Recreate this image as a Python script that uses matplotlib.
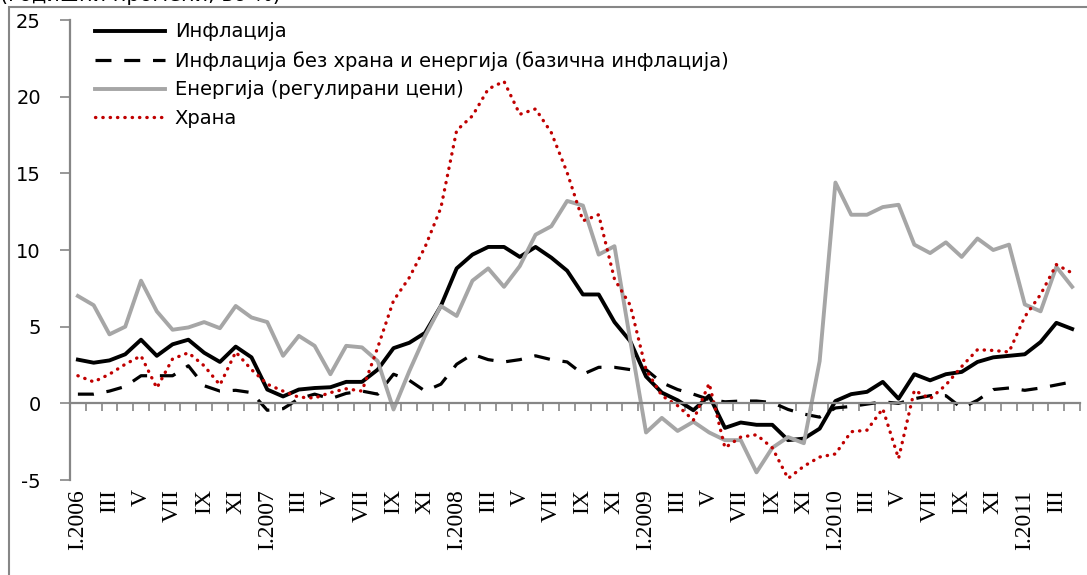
"""
Инфлација и нејзините компоненти (годишни стапки), I.2006 - IV.2011.

Скриптата ја прецртува сликата со четирите серии: вкупна инфлација,
базична инфлација, енергија (регулирани цени) и храна.
"""

import numpy as np
import matplotlib
matplotlib.use('Agg')
import matplotlib.pyplot as plt
from matplotlib.patches import Rectangle

plt.rcParams['font.family'] = ['DejaVu Sans']
plt.rcParams['axes.unicode_minus'] = False

# Оска x: месеци од I.2006 до IV.2011
godini = [2006, 2007, 2008, 2009, 2010, 2011]
meseci_rimski = ['I', 'III', 'V', 'VII', 'IX', 'XI']
broj_meseci = 64

# Серии (во %)
inflacija = [2.85, 2.65, 2.8, 3.2, 4.15, 3.1, 3.85, 4.15, 3.3, 2.7, 3.7, 3.0,
             0.9, 0.45, 0.9, 1.0, 1.05, 1.4, 1.4, 2.2, 3.6, 3.95, 4.6, 6.35,
             8.8, 9.7, 10.2, 10.2, 9.55, 10.2, 9.5, 8.65, 7.1, 7.1, 5.3, 4.05,
             1.75, 0.7, 0.2, -0.45, 0.5, -1.6, -1.25, -1.4, -1.4, -2.4, -2.3, -1.65,
             0.15, 0.6, 0.75, 1.4, 0.3, 1.9, 1.5, 1.9, 2.05, 2.7, 3.0, 3.1,
             3.2, 4.0, 5.25, 4.85]

bazicna = [0.6, 0.6, 0.8, 1.1, 1.8, 1.8, 1.8, 2.45, 1.15, 0.8, 0.85, 0.7,
           -0.45, -0.35, 0.3, 0.6, 0.3, 0.65, 0.8, 0.6, 1.9, 1.5, 0.8, 1.25,
           2.55, 3.2, 2.85, 2.7, 2.85, 3.1, 2.85, 2.7, 1.9, 2.35, 2.35, 2.2,
           2.2, 1.35, 0.9, 0.6, 0.25, 0.1, 0.15, 0.15, 0.05, -0.4, -0.7, -0.9,
           -0.3, -0.2, -0.05, 0.1, 0.0, 0.3, 0.5, 0.5, -0.3, 0.2, 0.9, 1.0,
           0.85, 1.0, 1.2, 1.4]

energija = [7.0, 6.4, 4.5, 5.0, 8.0, 6.0, 4.8, 4.95, 5.3, 4.9, 6.35, 5.6,
            5.3, 3.1, 4.4, 3.75, 1.9, 3.75, 3.65, 2.75, -0.4, 2.1, 4.4, 6.35,
            5.7, 8.0, 8.8, 7.6, 8.95, 11.0, 11.55, 13.2, 12.9, 9.7, 10.25, 4.1,
            -1.9, -0.95, -1.8, -1.2, -1.9, -2.4, -2.4, -4.5, -2.9, -2.2, -2.6, 2.75,
            14.4, 12.3, 12.3, 12.8, 12.95, 10.35, 9.8, 10.5, 9.55, 10.75, 10.0, 10.35,
            6.45, 6.0, 8.9, 7.6]

hrana = [1.8, 1.4, 1.9, 2.55, 3.1, 1.0, 2.9, 3.3, 2.45, 1.2, 3.35, 2.2,
         1.25, 0.8, 0.4, 0.35, 0.7, 0.95, 0.8, 3.65, 6.7, 8.2, 10.2, 12.75,
         17.8, 18.75, 20.5, 21.0, 18.85, 19.2, 17.65, 15.05, 11.9, 12.3, 8.1, 6.4,
         2.2, 0.5, -0.15, -1.1, 1.3, -2.9, -2.2, -2.05, -2.9, -4.9, -4.1, -3.5,
         -3.3, -1.85, -1.75, -0.35, -3.6, 0.85, 0.3, 1.2, 2.4, 3.5, 3.45, 3.35,
         5.65, 7.1, 9.05, 8.5]

SIVA_OSKA = '#868686'


def oznaki_meseci():
    """
    Ги гради ознаките за секој втор месец (I.2006, III, V, ...).

    Returns:
        list: ознаки за оската x
    """
    oznaki = []
    for godina in godini:
        for mesec in meseci_rimski:
            oznaki.append(f'{mesec}.{godina}' if mesec == 'I' else mesec)
    return oznaki[:(broj_meseci + 1) // 2]


def grafik_inflacija(ime_fajl='out.png'):
    """
    Го црта графикот со четирите серии и го зачувува.

    Args:
        ime_fajl (str): име на излезниот фајл
    """
    fig = plt.figure(figsize=(10.87, 5.75), dpi=100)
    ax = fig.add_axes([0.0644, 0.1652, 0.9292, 0.8000])

    x = np.arange(broj_meseci)
    ax.plot(x, inflacija, color='black', lw=2.8, label='Инфлација')
    ax.plot(x, bazicna, color='black', lw=2.3, linestyle=(0, (5, 4)),
            label='Инфлација без храна и енергија (базична инфлација)')
    ax.plot(x, energija, color='#A6A6A6', lw=2.8,
            label='Енергија (регулирани цени)')
    ax.plot(x, hrana, color='#C00000', lw=2.4, linestyle=(0, (0.1, 2.1)),
            dash_capstyle='round', label='Храна')

    # Оска y
    ax.set_ylim(-5, 25)
    ax.set_yticks(range(-5, 30, 5))
    ax.tick_params(axis='y', direction='out', length=7, width=1.2,
                   color=SIVA_OSKA, labelsize=14, pad=14)

    # Оска x на нулата, со црти за секој месец
    ax.set_xlim(-0.5, broj_meseci - 0.5)
    ax.spines['bottom'].set_position(('data', 0))
    ax.set_xticks(np.arange(-0.5, broj_meseci, 1))
    ax.set_xticklabels([])
    ax.set_xticks(np.arange(0, broj_meseci, 2), oznaki_meseci(), minor=True)
    ax.tick_params(axis='x', which='major', direction='out', length=6,
                   width=1.2, color=SIVA_OSKA)
    ax.tick_params(axis='x', which='minor', length=0, pad=62,
                   labelrotation=90, labelsize=17)
    for lbl in ax.get_xticklabels(minor=True):
        lbl.set_fontfamily('Liberation Serif')

    for strana in ['top', 'right']:
        ax.spines[strana].set_visible(False)
    for strana in ['left', 'bottom']:
        ax.spines[strana].set_color(SIVA_OSKA)
        ax.spines[strana].set_linewidth(1.6)

    ax.legend(loc='upper left', bbox_to_anchor=(25 / 1010, 0.995),
              frameon=False, fontsize=14, handlelength=3.6,
              handletextpad=0.5, labelspacing=0.5, borderaxespad=0,
              borderpad=0)

    # Рамка околу графикот и отсечениот наслов горе (отсечен и во изворот)
    fig.add_artist(Rectangle((9 / 1087, -0.1), 1.2, 1.1 - 7 / 575,
                             transform=fig.transFigure, fill=False,
                             edgecolor=SIVA_OSKA, lw=1.5))
    fig.text(0.0, 1 + 5 / 575, '(годишни промени, во %)', fontsize=15,
             va='center', ha='left')

    fig.savefig(ime_fajl, dpi=100)
    plt.close(fig)


def main():
    grafik_inflacija('out.png')


if __name__ == '__main__':
    main()
